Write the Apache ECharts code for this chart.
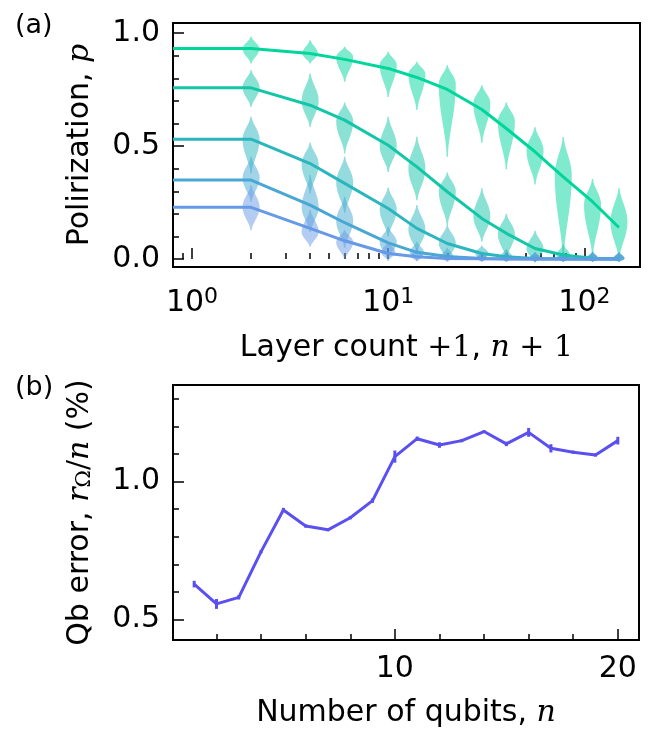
<!DOCTYPE html>
<html>
<head>
<meta charset="utf-8">
<script src="https://cdn.jsdelivr.net/npm/echarts@6/dist/echarts.min.js"></script>
<style>
  html, body { margin: 0; padding: 0; background: #fff; }
  #chart { width: 657px; height: 729px; }
</style>
</head>
<body>
<div id="chart"></div>
<script>
// ===== data: panel (a) =====
const layerX = [2, 4, 6, 10, 14, 20, 30, 40, 56, 78, 110, 150];
const lineStartX = 0.8;
const logMajor = [1, 10, 100];
const logMinor = [0.9, 2, 3, 4, 5, 6, 7, 8, 9, 20, 30, 40, 50, 60, 70, 80, 90];
const polMajor = [0, 0.5, 1];
const polMinor = [0.1, 0.2, 0.3, 0.4, 0.6, 0.7, 0.8, 0.9];

// mean polarization per curve
const pol1 = [0.932, 0.91, 0.884, 0.844, 0.804, 0.751, 0.662, 0.578, 0.475, 0.364, 0.254, 0.14];
const pol2 = [0.758, 0.681, 0.615, 0.504, 0.408, 0.298, 0.18, 0.114, 0.047, 0.018, 0.004, 0.001];
const pol3 = [0.531, 0.423, 0.335, 0.224, 0.136, 0.069, 0.025, 0.01, 0.003, 0.001, 0, 0];
const pol4 = [0.35, 0.239, 0.161, 0.072, 0.03, 0.011, 0.003, 0.001, 0, 0, 0, 0];
const pol5 = [0.229, 0.136, 0.081, 0.025, 0.01, 0.003, 0.001, 0, 0, 0, 0, 0];

// violins: [low, mode, high] per layer count
const vio1 = [[0.866,0.93,0.984],[0.866,0.91,0.969],[0.785,0.895,0.94],[0.718,0.86,0.917],[0.66,0.82,0.873],[0.453,0.775,0.858],
              [0.515,0.69,0.77],[0.398,0.61,0.693],[0.33,0.48,0.584],[0.004,0.37,0.54],[0.018,0.24,0.354],[0.004,0.165,0.314]];
const vio2 = [[0.674,0.76,0.836],[0.585,0.70,0.822],[0.469,0.61,0.693],[0.386,0.50,0.63],[0.261,0.40,0.541],[0.15,0.30,0.383],
              [0.077,0.19,0.314],[0.004,0.11,0.2],[-0.015,0.045,0.125],[-0.012,0.015,0.065],[-0.012,0.004,0.035],[-0.012,0.002,0.03]];
const vio3 = [[0.38,0.53,0.63],[0.29,0.42,0.516],[0.205,0.34,0.453],[0.1,0.22,0.316],[0.03,0.13,0.239],[-0.005,0.07,0.15],
              [-0.01,0.025,0.06],[-0.012,0.01,0.045],[-0.012,0.003,0.03],[-0.012,0.003,0.03],[-0.012,0.003,0.03],[-0.012,0.003,0.03]];
const vio4 = [[0.254,0.36,0.453],[0.12,0.23,0.372],[0.05,0.17,0.276],[0.0,0.075,0.143],[-0.008,0.03,0.077],[-0.01,0.012,0.05],
              [-0.012,0.003,0.03],[-0.012,0.003,0.03],[-0.012,0.003,0.03],[-0.012,0.003,0.03],[-0.012,0.003,0.03],[-0.012,0.003,0.03]];
const vio5 = [[0.128,0.23,0.327],[0.055,0.12,0.217],[0.0,0.075,0.128],[-0.008,0.03,0.077],[-0.01,0.012,0.05],[-0.012,0.003,0.03],
              [-0.012,0.003,0.03],[-0.012,0.003,0.03],[-0.012,0.003,0.03],[-0.012,0.003,0.03],[-0.012,0.003,0.03],[-0.012,0.003,0.03]];

// ===== data: panel (b) =====
const qubits = [1, 2, 3, 4, 5, 6, 7, 8, 9, 10, 11, 12, 13, 14, 15, 16, 17, 18, 19, 20];
const qbError = [0.628, 0.556, 0.580, 0.746, 0.897, 0.839, 0.825, 0.869, 0.931, 1.091, 1.156, 1.133, 1.149, 1.182, 1.137, 1.179, 1.121, 1.107, 1.097, 1.149];
const qbErrBar = [0.012, 0.018, 0.008, 0.006, 0.008, 0.006, 0.005, 0.006, 0.008, 0.022, 0.008, 0.01, 0.006, 0.005, 0.008, 0.016, 0.015, 0.006, 0.006, 0.014];
const qbMajor = [10, 20];
const qbMinor = [2, 4, 6, 8, 12, 14, 16, 18];
const errMajor = [0.5, 1.0];
const errMinor = [0.6, 0.7, 0.8, 0.9, 1.1, 1.2, 1.3];

// ===== styles =====
const SANS = 'DejaVu Sans';
const SERIF = 'DejaVu Serif';
const FS = 30;
const curveColors = ['#00d69c', '#14c6a8', '#2bb6be', '#48a7d4', '#6699e6'];
const qbColor = '#5a4fef';
const VIOLIN_HALF = 8.5;

const chart = echarts.init(document.getElementById('chart'), null, { renderer: 'canvas' });

const mathRich = {
  s: { fontFamily: SANS, fontSize: FS, color: '#000' },
  m: { fontFamily: SERIF, fontSize: FS, color: '#000' },
  i: { fontFamily: SERIF, fontStyle: 'italic', fontSize: FS, color: '#000' },
  sub: { fontFamily: SERIF, fontSize: 21, color: '#000', verticalAlign: 'bottom' },
};

// violin outline profile, u = 0 at the mode, 1 at the tip
const prof = u => 0.08 + 0.92 * Math.pow(1 - u * u, 2);

function violinItem(color) {
  return function (params, api) {
    const x = api.value(0);
    const c = api.coord([x, api.value(2)]);
    const yBot = api.coord([x, api.value(1)])[1];
    const yTop = api.coord([x, api.value(3)])[1];
    const w = VIOLIN_HALF * Math.min(1, 0.45 + (yBot - yTop) / 50);
    const N = 14;
    const right = [];
    for (let i = 0; i <= N; i++) {
      const u = 1 - i / N;
      right.push([c[0] + w * prof(u), c[1] + u * (yBot - c[1])]);
    }
    for (let i = 1; i <= N; i++) {
      const u = i / N;
      right.push([c[0] + w * prof(u), c[1] - u * (c[1] - yTop)]);
    }
    const left = right.slice().reverse().map(p => [2 * c[0] - p[0], p[1]]);
    return {
      type: 'polygon',
      shape: { points: right.concat(left) },
      style: { fill: color, opacity: 0.5 }
    };
  };
}

function errItem(params, api) {
  const a = api.coord([api.value(0), api.value(1)]);
  const b = api.coord([api.value(0), api.value(2)]);
  return {
    type: 'line',
    shape: { x1: a[0], y1: a[1], x2: b[0], y2: b[1] },
    style: { stroke: qbColor, lineWidth: 3 }
  };
}

const pols = [pol1, pol2, pol3, pol4, pol5];
const vios = [vio1, vio2, vio3, vio4, vio5];

const series = [];
vios.forEach((v, k) => {
  series.push({
    type: 'custom', xAxisIndex: 0, yAxisIndex: 0, z: 1, clip: true,
    renderItem: violinItem(curveColors[k]),
    encode: { x: 0, y: 2 },
    data: layerX.map((x, i) => [x, v[i][0], v[i][1], v[i][2]])
  });
});
pols.forEach((p, k) => {
  series.push({
    type: 'line', xAxisIndex: 0, yAxisIndex: 0, z: 3,
    showSymbol: false, silent: true,
    lineStyle: { width: 3, color: curveColors[k] },
    data: [[lineStartX, p[0]]].concat(layerX.map((x, i) => [x, p[i]]))
  });
});
series.push({
  type: 'line', xAxisIndex: 2, yAxisIndex: 2, z: 3,
  showSymbol: false, silent: true,
  lineStyle: { width: 3, color: qbColor },
  data: qubits.map((q, i) => [q, qbError[i]])
});
series.push({
  type: 'custom', xAxisIndex: 2, yAxisIndex: 2, z: 4,
  renderItem: errItem,
  encode: { x: 0, y: [1, 2] },
  data: qubits.map((q, i) => [q, qbError[i] - qbErrBar[i], qbError[i] + qbErrBar[i]])
});

const tickBase = { show: true, inside: true, lineStyle: { color: '#000', width: 1.5 } };
const noLine = { show: false };
const noSplit = { show: false };

function minorAxis(extra, values) {
  return Object.assign({
    axisLine: noLine, splitLine: noSplit, axisLabel: { show: false },
    axisTick: Object.assign({}, tickBase, { length: 6, customValues: values })
  }, extra);
}

const panelLabel = { fontFamily: SANS, fontSize: 27, fontWeight: 'normal', color: '#000' };

const option = {
  animation: false,
  backgroundColor: '#fff',
  textStyle: { fontFamily: SANS },
  title: [
    { text: '(a)', left: 10, top: 7, textStyle: panelLabel },
    { text: '(b)', left: 10, top: 369, textStyle: panelLabel }
  ],
  grid: [
    { left: 173, top: 23, width: 467, height: 244, show: true, borderColor: '#000', borderWidth: 2, backgroundColor: 'transparent' },
    { left: 173, top: 385, width: 466, height: 255, show: true, borderColor: '#000', borderWidth: 2, backgroundColor: 'transparent' }
  ],
  xAxis: [
    {
      gridIndex: 0, type: 'log', logBase: 10, min: 0.8, max: 192, position: 'bottom',
      axisLine: noLine, splitLine: noSplit,
      axisTick: Object.assign({}, tickBase, { length: 11, customValues: logMajor }),
      axisLabel: {
        customValues: logMajor, margin: 19, color: '#000', fontFamily: SANS, fontSize: FS,
        formatter: v => '{b|10}{sup|' + Math.round(Math.log10(v)) + '}',
        rich: {
          b: { fontFamily: SANS, fontSize: FS, color: '#000', lineHeight: 34 },
          sup: { fontFamily: SANS, fontSize: 22, color: '#000', verticalAlign: 'top' }
        }
      },
      name: '{s|Layer count }{m|+1}{s|, }{i|n}{m| + 1}',
      nameLocation: 'middle', nameGap: 66,
      nameTextStyle: { rich: mathRich }
    },
    minorAxis({ gridIndex: 0, type: 'log', logBase: 10, min: 0.8, max: 192, position: 'bottom' }, logMinor),
    {
      gridIndex: 1, type: 'value', min: 0.05, max: 20.95, position: 'bottom',
      axisLine: noLine, splitLine: noSplit,
      axisTick: Object.assign({}, tickBase, { length: 11, customValues: qbMajor }),
      axisLabel: { customValues: qbMajor, margin: 14, color: '#000', fontFamily: SANS, fontSize: FS },
      name: '{s|Number of qubits, }{i|n}',
      nameLocation: 'middle', nameGap: 58,
      nameTextStyle: { rich: mathRich }
    },
    minorAxis({ gridIndex: 1, type: 'value', min: 0.05, max: 20.95, position: 'bottom' }, qbMinor)
  ],
  yAxis: [
    {
      gridIndex: 0, type: 'value', min: -0.035, max: 1.045, position: 'left',
      axisLine: noLine, splitLine: noSplit,
      axisTick: Object.assign({}, tickBase, { length: 11, customValues: polMajor }),
      axisLabel: { customValues: polMajor, margin: 13, color: '#000', fontFamily: SANS, fontSize: FS, formatter: v => v.toFixed(1) },
      name: '{s|Polirization, }{i|p}',
      nameLocation: 'middle', nameGap: 78,
      nameTextStyle: { rich: mathRich }
    },
    minorAxis({ gridIndex: 0, type: 'value', min: -0.035, max: 1.045, position: 'left' }, polMinor),
    {
      gridIndex: 1, type: 'value', min: 0.425, max: 1.351, position: 'left',
      axisLine: noLine, splitLine: noSplit,
      axisTick: Object.assign({}, tickBase, { length: 11, customValues: errMajor }),
      axisLabel: { customValues: errMajor, margin: 13, color: '#000', fontFamily: SANS, fontSize: FS, formatter: v => v.toFixed(1) },
      name: '{s|Qb error, }{i|r}{sub|Ω}{m|/}{i|n}{s| (%)}',
      nameLocation: 'middle', nameGap: 78,
      nameTextStyle: { rich: mathRich }
    },
    minorAxis({ gridIndex: 1, type: 'value', min: 0.425, max: 1.351, position: 'left' }, errMinor)
  ],
  series: series
};

chart.setOption(option);
</script>
</body>
</html>
